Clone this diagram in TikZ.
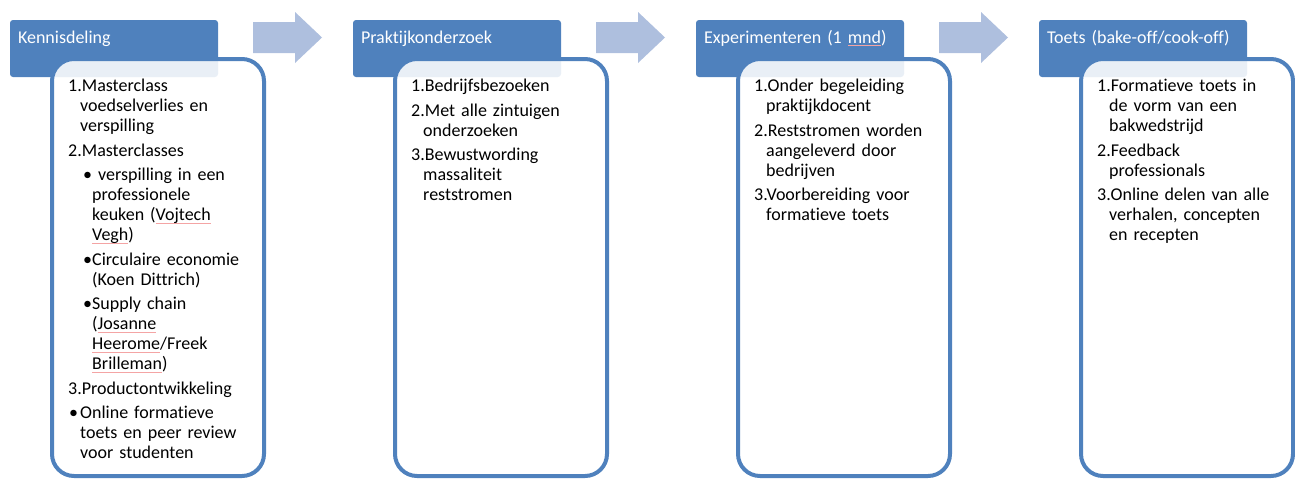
\documentclass[tikz,border=0pt]{standalone}
\usepackage{fontspec}
\setmainfont{Carlito}[Ligatures=NoCommon]

\definecolor{kopblauw}{HTML}{4F81BD}
\definecolor{pijlblauw}{HTML}{AEBFDE}
\definecolor{spellred}{HTML}{F4A4A4}

\newlength{\spellwd}
\newcommand{\spell}[1]{\settowidth{\spellwd}{#1}\rlap{\color{spellred}\rule[-2.2pt]{\spellwd}{0.55pt}}#1}
\newcommand{\numline}[1]{\hangindent=12pt\hangafter=1\noindent\rule{0pt}{15pt}#1\par}
\newcommand{\subbullet}[1]{\hangindent=24pt\hangafter=1\noindent\rule{0pt}{15pt}\hspace*{15pt}\makebox[9pt][l]{•}#1\par}
\newcommand{\mainbullet}[1]{\hangindent=12pt\hangafter=1\noindent\rule{0pt}{15pt}\hspace*{1pt}\makebox[11pt][l]{•}#1\par}

\begin{document}
\begin{tikzpicture}[x=1pt, y=-1pt]
            \useasboundingbox (0,0) rectangle (1295,480);

            % pijlen tussen de fasen
            \begin{scope}[every path/.style={fill=pijlblauw}]
                \fill (253,22) -- (295,22) -- (295,12) -- (322,37.5) -- (295,63) -- (295,53) -- (253,53) -- cycle;
                \fill (596,22) -- (638,22) -- (638,12) -- (665,37.5) -- (638,63) -- (638,53) -- (596,53) -- cycle;
                \fill (939,22) -- (981,22) -- (981,12) -- (1008,37.5) -- (981,63) -- (981,53) -- (939,53) -- cycle;
            \end{scope}

            \begin{scope}[every node/.style={anchor=north west, rectangle, rounded corners=3pt, fill=kopblauw,
                    text=white, font=\fontsize{18}{20}\selectfont, align=left, text width=192pt,
                    inner xsep=8pt, inner ysep=0pt, outer sep=0pt, text height=23.3pt, text depth=33.7pt}]
                \node (kop1) at (10,20) {Kennisdeling};
                \node (kop2) at (353,20) {Praktijkonderzoek};
                \node (kop3) at (696,20) {Experimenteren (1 \spell{mnd})};
                \node (kop4) at (1039,20) {Toets (bake-off/cook-off)};
            \end{scope}

            \begin{scope}[every node/.style={anchor=north west, rectangle, rounded corners=22pt, draw=kopblauw,
                    line width=4pt, fill=white, fill opacity=0.88, draw opacity=1, minimum width=212pt,
                    minimum height=417pt, inner sep=0pt, outer sep=0pt}]
                \node (vak1) at (52,59) {};
                \node (vak2) at (395,59) {};
                \node (vak3) at (738,59) {};
                \node (vak4) at (1081,59) {};
            \end{scope}

            \begin{scope}[every node/.style={anchor=north west, inner sep=0pt, text width=196pt, align=left,
                    font=\fontsize{18}{20}\selectfont\setlength{\parskip}{4.5pt}\setlength{\lineskiplimit}{-10pt}}]
                \node (tekst1) at (68,76.7) {
                    \numline{1.Masterclass\newline voedselverlies en\newline verspilling}
                    \numline{2.Masterclasses}
                    \subbullet{\ verspilling in een\newline professionele\newline keuken (\spell{Vojtech}\newline \spell{Vegh})}
                    \subbullet{Circulaire economie\newline (Koen Dittrich)}
                    \subbullet{Supply chain\newline (\spell{Josanne}\newline \spell{Heerome}/Freek\newline \spell{Brilleman})}
                    \numline{3.Productontwikkeling}
                    \mainbullet{Online formatieve\newline toets en peer review\newline voor studenten}};
                \node (tekst2) at (411,76.7) {
                    \numline{1.Bedrijfsbezoeken}
                    \numline{2.Met alle zintuigen\newline onderzoeken}
                    \numline{3.Bewustwording\newline massaliteit\newline reststromen}};
                \node (tekst3) at (754,76.7) {
                    \numline{1.Onder begeleiding\newline praktijkdocent}
                    \numline{2.Reststromen worden\newline aangeleverd door\newline bedrijven}
                    \numline{3.Voorbereiding voor\newline formatieve toets}};
                \node (tekst4) at (1097,76.7) {
                    \numline{1.Formatieve toets in\newline de vorm van een\newline bakwedstrijd}
                    \numline{2.Feedback\newline professionals}
                    \numline{3.Online delen van alle\newline verhalen, concepten\newline en recepten}};
            \end{scope}
        \end{tikzpicture}
\end{document}
